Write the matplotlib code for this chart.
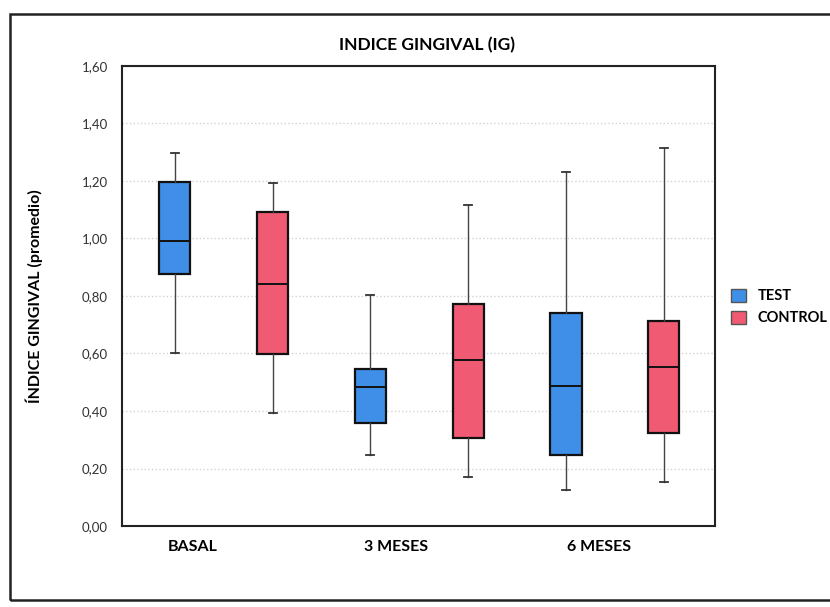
import matplotlib
matplotlib.use('Agg')
import matplotlib.pyplot as plt
from matplotlib.patches import Patch, Rectangle
from matplotlib.ticker import FuncFormatter

plt.rcParams['font.family'] = ['Lato', 'DejaVu Sans']

# Box statistics
groups = ['BASAL', '3 MESES', '6 MESES']
series = ['TEST', 'CONTROL']
test_low = [0.60, 0.247, 0.125]
test_q1 = [0.876, 0.358, 0.247]
test_med = [0.991, 0.483, 0.487]
test_q3 = [1.197, 0.546, 0.741]
test_high = [1.297, 0.803, 1.231]
ctrl_low = [0.393, 0.170, 0.153]
ctrl_q1 = [0.598, 0.306, 0.323]
ctrl_med = [0.842, 0.577, 0.553]
ctrl_q3 = [1.092, 0.772, 0.713]
ctrl_high = [1.193, 1.117, 1.315]
yticks = [0.0, 0.2, 0.4, 0.6, 0.8, 1.0, 1.2, 1.4, 1.6]

blue = '#3f8fe8'
pink = '#f05a72'

def make_stats(low, q1, med, q3, high):
    return [dict(whislo=a, q1=b, med=c, q3=d, whishi=e, fliers=[])
            for a, b, c, d, e in zip(low, q1, med, q3, high)]

test_stats = make_stats(test_low, test_q1, test_med, test_q3, test_high)
ctrl_stats = make_stats(ctrl_low, ctrl_q1, ctrl_med, ctrl_q3, ctrl_high)

fig = plt.figure(figsize=(8.3, 6.07), dpi=100)
ax = fig.add_axes([0.147, 0.1334, 0.714, 0.758])

test_pos = [2 * i for i in range(len(groups))]
ctrl_pos = [2 * i + 1 for i in range(len(groups))]

for stats, pos, col in [(test_stats, test_pos, blue), (ctrl_stats, ctrl_pos, pink)]:
    ax.bxp(stats, positions=pos, widths=0.32, patch_artist=True, showfliers=False,
           boxprops=dict(facecolor=col, edgecolor='#111111', linewidth=1.6),
           medianprops=dict(color='#111111', linewidth=1.4),
           whiskerprops=dict(color='#444444', linewidth=1.0),
           capprops=dict(color='#333333', linewidth=1.3), capwidths=0.08)

ax.set_xlim(-0.54, 5.52)
ax.set_ylim(0, 1.6)
ax.set_yticks(yticks)
ax.yaxis.set_major_formatter(FuncFormatter(lambda v, p: f'{v:.2f}'.replace('.', ',')))
ax.tick_params(axis='y', length=0, labelsize=9.5, labelcolor='#333333', pad=10)
ax.set_xticks([0.18, 2.26, 4.34])
ax.set_xticklabels(groups, fontsize=11.5, fontweight='bold')
ax.tick_params(axis='x', length=0, pad=10)
ax.grid(axis='y', color='#d2d2d2', linestyle=':', linewidth=1.0)
ax.set_axisbelow(True)
for s in ax.spines.values():
    s.set_linewidth(1.5)
    s.set_color('#222222')

ax.set_ylabel('ÍNDICE GINGIVAL (promedio)', fontsize=11.5, fontweight='bold', labelpad=28)
fig.text(0.515, 0.925, 'INDICE GINGIVAL (IG)', ha='center', va='center',
         fontsize=12.5, fontweight='bold')

handles = [Patch(facecolor=blue, edgecolor='#555555'), Patch(facecolor=pink, edgecolor='#555555')]
fig.legend(handles, series, loc='center left', bbox_to_anchor=(0.865, 0.494),
           frameon=False, handlelength=1.0, handleheight=1.0,
           handletextpad=0.8, labelspacing=0.5,
           prop={'weight': 'bold', 'size': 10.5})

# outer frame of the scanned chart area
fig.patches.append(Rectangle((0.012, 0.012), 0.99, 0.965, transform=fig.transFigure,
                             fill=False, edgecolor='#222222', linewidth=1.8))

fig.savefig('out.png', dpi=100)
